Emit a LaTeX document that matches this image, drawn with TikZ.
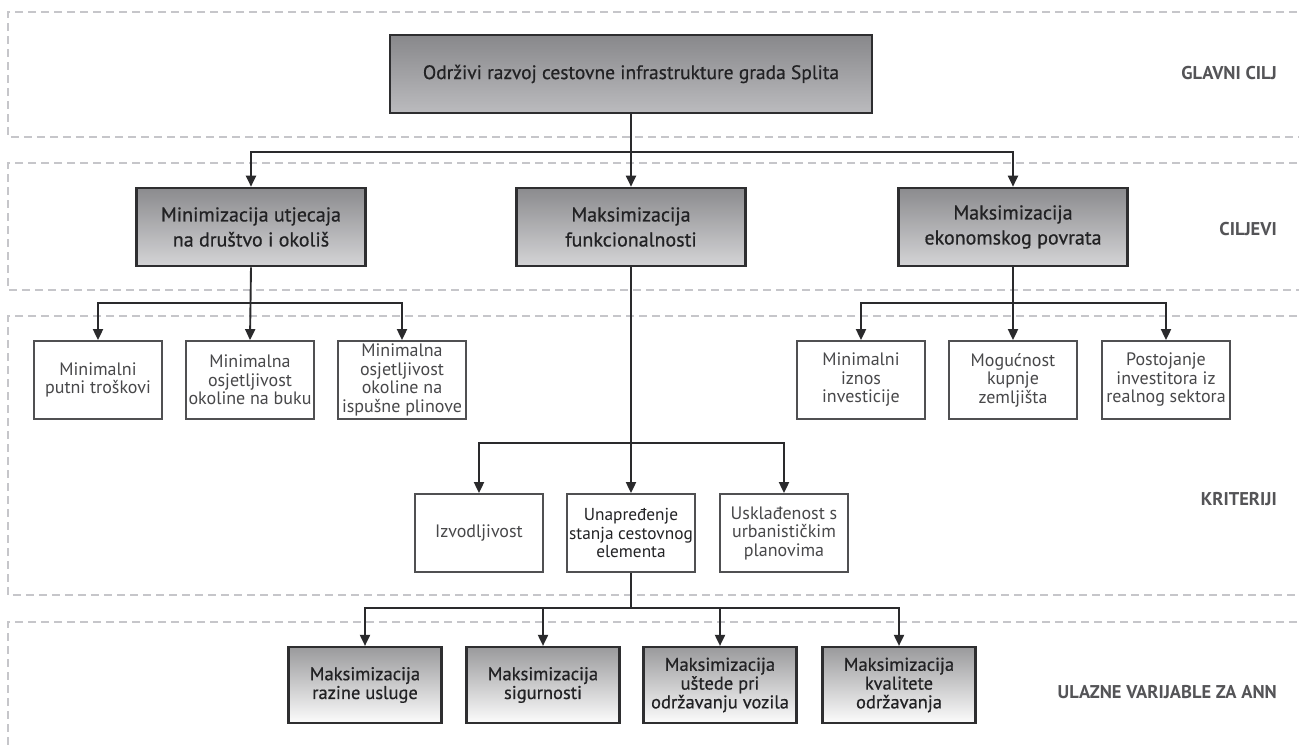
\documentclass[tikz,border=0pt]{standalone}
\usepackage{fontspec}
\setmainfont{PT Sans}
\newfontfamily\medfont[FakeBold=0.6]{PT Sans}
\usetikzlibrary{arrows.meta}
\definecolor{dashc}{HTML}{C6C6CA}
\definecolor{boxdark}{HTML}{2E2E30}
\definecolor{boxgray}{HTML}{505052}
\definecolor{textdark}{HTML}{222224}
\definecolor{textgray}{HTML}{48484A}
\definecolor{labc}{HTML}{545457}
\definecolor{linec}{HTML}{2A2A2C}
\definecolor{gtop}{HTML}{88888B}
\definecolor{gbot}{HTML}{BBBBBE}
\definecolor{ctop}{HTML}{8B8B8E}
\definecolor{cbot}{HTML}{D4D4D6}
\definecolor{itop}{HTML}{9A9A9C}
\definecolor{ibot}{HTML}{FCFCFC}
\tikzset{
  band/.style={draw=dashc, line width=1.3pt, dash pattern=on 8pt off 5pt},
  goalbox/.style={draw=boxdark, line width=2.6pt, top color=gtop, bottom color=gbot,
    minimum width=482pt, minimum height=78pt, inner sep=0pt, text=textdark,
    font=\medfont\fontsize{19.5}{25}\selectfont, align=center},
  aimbox/.style={draw=boxdark, line width=2.6pt, top color=ctop, bottom color=cbot,
    minimum width=229pt, minimum height=78pt, inner sep=0pt, text=textdark,
    font=\medfont\fontsize{20}{25}\selectfont, align=center},
  critbox/.style={draw=boxgray, line width=1.8pt, fill=white,
    minimum width=128pt, minimum height=78pt, inner sep=0pt, text=textgray,
    font=\fontsize{18}{18.5}\selectfont, align=center},
  inbox/.style={draw=boxdark, line width=2.2pt, top color=itop, bottom color=ibot,
    minimum width=153pt, minimum height=76pt, inner sep=0pt, text=textdark,
    font=\medfont\fontsize{18.5}{18.8}\selectfont, align=center},
  lab/.style={anchor=east, text=labc, font=\fontsize{18.5}{20}\selectfont\bfseries, inner sep=0pt},
  conn/.style={draw=linec, line width=1.9pt, -{Triangle[length=11pt,width=10pt]}},
  plain/.style={draw=linec, line width=1.9pt}
}
\begin{document}
\begin{tikzpicture}[x=1pt,y=-1pt]
\useasboundingbox (0,0) rectangle (1299,747);
\clip (0,0) rectangle (1299,747);
\fill[white] (0,0) rectangle (1299,747);
% bands
\draw[band] (1310,12) -- (8,12) -- (8,137) -- (1310,137);
\draw[band] (1310,163) -- (8,163) -- (8,290) -- (1310,290);
\draw[band] (1310,316) -- (8,316) -- (8,595) -- (1310,595);
\draw[band] (1310,622) -- (8,622) -- (8,760);
% labels
\node[lab] (l1) at (1277,73) {GLAVNI CILJ};
\node[lab] (l2) at (1277,229) {CILJEVI};
\node[lab] (l3) at (1277,499) {KRITERIJI};
\node[lab] (l4) at (1277,692) {ULAZNE VARIJABLE ZA ANN};
% nodes
\node[goalbox] (goal) at (631,74) {Održivi razvoj cestovne infrastrukture grada Splita};
\node[aimbox] (c1) at (251,227) {Minimizacija utjecaja\\na društvo i okoliš};
\node[aimbox] (c2) at (631,227) {Maksimizacija\\funkcionalnosti};
\node[aimbox] (c3) at (1013,227) {Maksimizacija\\ekonomskog povrata};
\node[critbox] (k1) at (98,380) {Minimalni\\putni troškovi};
\node[critbox] (k2) at (250,380) {Minimalna\\osjetljivost\\okoline na buku};
\node[critbox] (k3) at (402,380) {Minimalna\\osjetljivost\\okoline na\\ispušne plinove};
\node[critbox] (k4) at (861,380) {Minimalni\\iznos\\investicije};
\node[critbox] (k5) at (1013,380) {Mogućnost\\kupnje\\zemljišta};
\node[critbox] (k6) at (1166,380) {Postojanje\\investitora iz\\realnog sektora};
\node[critbox] (k7) at (479,533) {Izvodljivost};
\node[critbox, text=textdark, font=\fontsize{17.3}{18.5}\selectfont] (k8) at (631,533) {Unapređenje\\stanja cestovnog\\elementa};
\node[critbox] (k9) at (784,533) {Usklađenost s\\urbanističkim\\planovima};
\node[inbox] (v1) at (365,685) {Maksimizacija\\razine usluge};
\node[inbox] (v2) at (543,685) {Maksimizacija\\sigurnosti};
\node[inbox] (v3) at (720,685) {Maksimizacija\\uštede pri\\održavanju vozila};
\node[inbox] (v4) at (899,685) {Maksimizacija\\kvalitete\\održavanja};
% branch points
\coordinate (b1) at (631,152);
\coordinate (b2) at (251,303);
\coordinate (b3) at (1013,303);
\coordinate (b4) at (631,443);
\coordinate (b5) at (631,608);
% connectors
\draw[conn] (goal.south) -- (c2.north);
\draw[conn] (b1) -| (c1.north);
\draw[conn] (b1) -| (c3.north);
\draw[conn] (c1.south) -- (k2.north);
\draw[conn] (b2) -| (k1.north);
\draw[conn] (b2) -| (k3.north);
\draw[conn] (c3.south) -- (k5.north);
\draw[conn] (b3) -| (k4.north);
\draw[conn] (b3) -| (k6.north);
\draw[conn] (c2.south) -- (k8.north);
\draw[conn] (b4) -| (k7.north);
\draw[conn] (b4) -| (k9.north);
\draw[plain] (k8.south) -- (b5);
\draw[conn] (b5) -| (v1.north);
\draw[conn] (b5) -| (v2.north);
\draw[conn] (b5) -| (v3.north);
\draw[conn] (b5) -| (v4.north);
\end{tikzpicture}
\end{document}
